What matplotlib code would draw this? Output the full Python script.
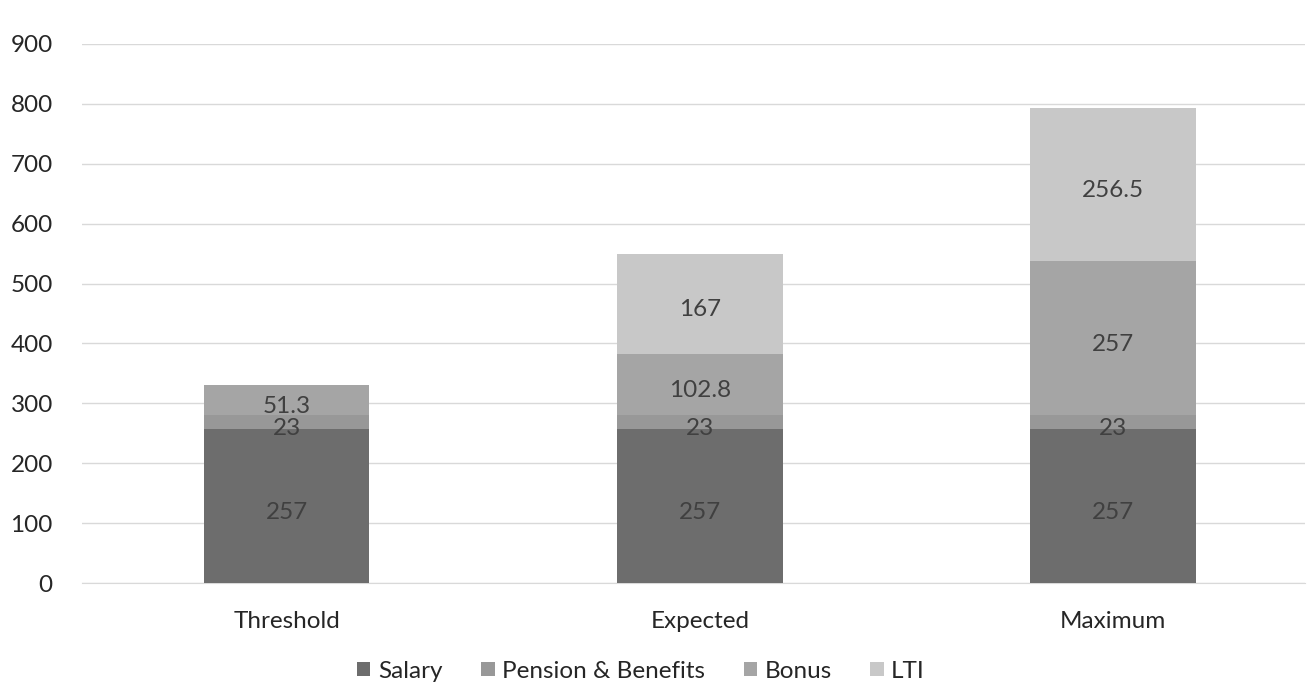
import matplotlib
matplotlib.use("Agg")
import matplotlib.pyplot as plt
import numpy as np

categories = ["Threshold", "Expected", "Maximum"]
series_names = ["Salary", "Pension & Benefits", "Bonus", "LTI"]
salary = [257, 257, 257]
pension = [23, 23, 23]
bonus = [51.3, 102.8, 257]
lti = [0, 167, 256.5]
label_text = {
    "Salary": ["257", "257", "257"],
    "Pension & Benefits": ["23", "23", "23"],
    "Bonus": ["51.3", "102.8", "257"],
    "LTI": ["", "167", "256.5"],
}
colors = ["#6d6d6d", "#989898", "#a5a5a5", "#c8c8c8"]

plt.rcParams['font.family'] = ['Lato', 'DejaVu Sans']
FS = 17.5

fig = plt.figure(figsize=(13.07, 6.84), dpi=100)
ax = fig.add_axes([82/1307, 1-583/684, (1305-82)/1307, (583-44)/684])

x = np.arange(len(categories))
bottom = np.zeros(len(categories))
handles = []
for name, vals, c in zip(series_names, [salary, pension, bonus, lti], colors):
    vals = np.array(vals, dtype=float)
    b = ax.bar(x, vals, 0.4, bottom=bottom, color=c, label=name, zorder=3)
    handles.append(b)
    for xi, v, bt, t in zip(x, vals, bottom, label_text[name]):
        if t:
            ax.annotate(t, (xi, bt + v/2), xytext=(0, -4.5), textcoords="offset points",
                        ha="center", va="center", fontsize=FS, color="#404040", zorder=4)
    bottom += vals

ax.set_xlim(-0.496, 2.465)
ax.set_ylim(0, 900)
ax.set_yticks(range(0, 901, 100))
ax.set_xticks(x)
ax.set_xticklabels(categories)
ax.yaxis.grid(True, color="#d9d9d9", linewidth=1, zorder=0)
ax.set_axisbelow(True)
for s in ax.spines.values():
    s.set_visible(False)
ax.spines['bottom'].set_visible(True)
ax.spines['bottom'].set_color("#d9d9d9")
ax.tick_params(axis='both', length=0, labelsize=FS, colors="#262626")
ax.tick_params(axis='y', pad=21)
ax.tick_params(axis='x', pad=20)

fig.legend(handles=handles, labels=series_names, loc="center", bbox_to_anchor=(641/1307, 1-671/684),
           ncol=4, frameon=False, fontsize=FS, handlelength=0.55, handleheight=0.55,
           handletextpad=0.3, columnspacing=1.6, labelcolor="#262626")

fig.savefig("out.png", dpi=100)
